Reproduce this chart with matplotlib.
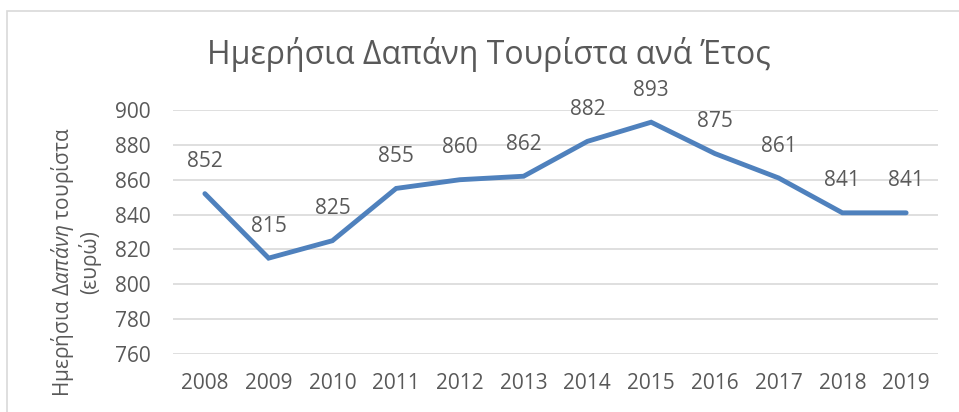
import matplotlib.pyplot as plt
from matplotlib.patches import Rectangle

plt.rcParams['font.family'] = ['Open Sans', 'DejaVu Sans']
plt.rcParams['mathtext.fontset'] = 'custom'
plt.rcParams['mathtext.rm'] = 'Open Sans'
plt.rcParams['mathtext.it'] = 'Open Sans:italic'

years = ['2008', '2009', '2010', '2011', '2012', '2013',
         '2014', '2015', '2016', '2017', '2018', '2019']
spend = [852, 815, 825, 855, 860, 862, 882, 893, 875, 861, 841, 841]
yticks = [760, 780, 800, 820, 840, 860, 880, 900]

grey = '#595959'
grid = '#D9D9D9'

fig = plt.figure(figsize=(9.59, 4.12), dpi=100)
ax = fig.add_axes([173/959, 1 - 354/412, (938 - 173)/959, (354 - 110)/412])

x = list(range(len(years)))
ax.plot(x, spend, color='#4F81BD', lw=3.5, solid_capstyle='round',
        solid_joinstyle='miter', zorder=3)
for xi, v in zip(x, spend):
    ax.annotate(str(v), (xi, v), xytext=(0, 23), textcoords='offset points',
                ha='center', va='center', fontsize=15, color=grey)

ax.set_xlim(-0.5, len(years) - 0.5)
ax.set_ylim(760, 900)
ax.set_yticks(yticks)
ax.set_xticks(x)
ax.set_xticklabels(years)
ax.tick_params(length=0, labelsize=15, labelcolor=grey)
ax.tick_params(axis='y', pad=16)
ax.tick_params(axis='x', pad=14)
ax.grid(axis='y', color=grid, lw=1.2)
ax.set_axisbelow(True)
for s in ax.spines.values():
    s.set_visible(False)

fig.text(489/959, 1 - 55/412, 'Ημερήσια Δαπάνη Τουρίστα ανά Έτος',
         ha='center', va='center', fontsize=23, color=grey)
# slightly smaller than the original so it stays inside the image
fig.text(75/959, 1 - 262/412, 'Ημερήσια $\\it{Δαπάνη}$ τουρίστα\n(ευρώ)',
         ha='center', va='center', rotation=90, fontsize=15, color=grey,
         multialignment='center', linespacing=1.15)

fig.patches.append(Rectangle((7/959, -0.1), 1.2, 1 - 11/412 + 0.1,
                             transform=fig.transFigure, fill=False,
                             ec=grid, lw=1.2))

plt.savefig('out.png', dpi=100)
